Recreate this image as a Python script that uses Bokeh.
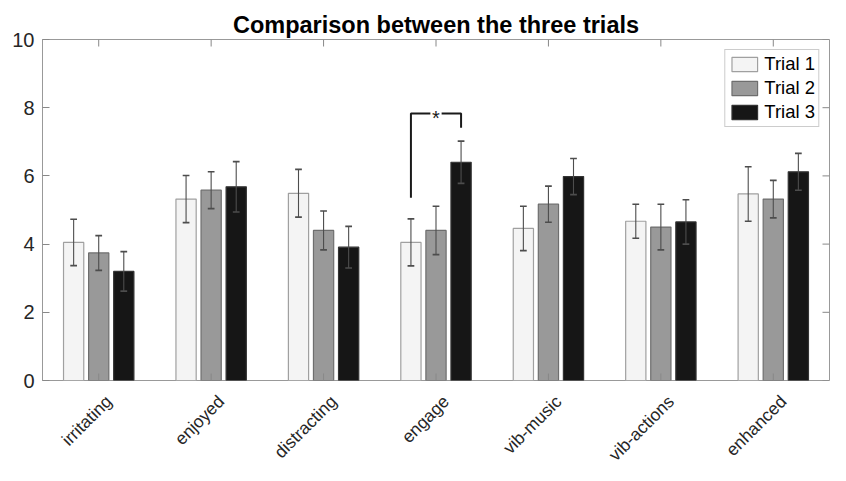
import math
from bokeh.plotting import figure
from bokeh.layouts import column
from bokeh.models import Range1d, FixedTicker, Legend, LegendItem
from bokeh.core.properties import value
from bokeh.embed import file_html
from bokeh.resources import INLINE

categories = ["irritating", "enjoyed", "distracting", "engage", "vib-music", "vib-actions", "enhanced"]
trial1_mean = [4.05, 5.32, 5.49, 4.05, 4.46, 4.67, 5.47]
trial1_err = [0.68, 0.69, 0.70, 0.69, 0.65, 0.50, 0.80]
trial2_mean = [3.74, 5.58, 4.40, 4.40, 5.17, 4.50, 5.32]
trial2_err = [0.51, 0.54, 0.57, 0.71, 0.53, 0.67, 0.55]
trial3_mean = [3.20, 5.68, 3.91, 6.40, 5.98, 4.65, 6.12]
trial3_err = [0.58, 0.74, 0.61, 0.62, 0.53, 0.65, 0.54]
series_names = ["Trial 1", "Trial 2", "Trial 3"]
y_ticks = [0, 2, 4, 6, 8, 10]

# significance bracket (engage: Trial 1 vs Trial 3)
sig_category = 3
sig_left_bottom = 5.36
sig_right_bottom = 7.41
sig_top = 7.83
sig_label = "*"

FONT = "Liberation Sans"
fills = ["#f4f4f4", "#999999", "#161616"]
lines = ["#a0a0a0", "#6e6e6e", "#333333"]
offsets = [-0.223, 0.0, 0.223]
bar_w = 0.18

W = 830
H1, H2 = 391, 74
ML, MR, MT, MB = 42, 1, 39, 11
X0, X1, Y0, Y1 = 0.5, 7.5, 0.0, 10.0
TICK = 7
fw = W - ML - MR
fh = H1 - MT - MB
px_x = fw / (X1 - X0)
px_y = fh / (Y1 - Y0)

x_range = Range1d(X0, X1)
p = figure(width=W, height=H1, output_backend="svg", toolbar_location=None,
           x_range=x_range, y_range=Range1d(Y0, Y1),
           min_border_left=ML, min_border_right=MR, min_border_top=MT, min_border_bottom=MB)
p.background_fill_color = "white"
p.border_fill_color = "white"
p.xgrid.visible = False
p.ygrid.visible = False
p.outline_line_color = "#999999"
p.xaxis.visible = False

p.title.text = "Comparison between the three trials"
p.title.align = "center"
p.title.text_font = FONT
p.title.text_font_size = "23.5px"
p.title.text_font_style = "bold"
p.title.text_color = "#000000"
p.title.standoff = 4

xs = list(range(1, len(categories) + 1))
means = [trial1_mean, trial2_mean, trial3_mean]
errs = [trial1_err, trial2_err, trial3_err]
renderers = []
for k in range(3):
    bx = [x + offsets[k] for x in xs]
    r = p.vbar(x=bx, top=means[k], bottom=0, width=bar_w, fill_color=fills[k],
               line_color=lines[k], line_width=1.2)
    renderers.append(r)

cap = 0.03
for k in range(3):
    bx = [x + offsets[k] for x in xs]
    lo = [m - e for m, e in zip(means[k], errs[k])]
    hi = [m + e for m, e in zip(means[k], errs[k])]
    p.segment(x0=bx, y0=lo, x1=bx, y1=hi, line_color="#4d4d4d", line_width=1.1)
    p.segment(x0=[x - cap for x in bx], y0=hi, x1=[x + cap for x in bx], y1=hi,
              line_color="#4d4d4d", line_width=1.6)
    p.segment(x0=[x - cap for x in bx], y0=lo, x1=[x + cap for x in bx], y1=lo,
              line_color="#4d4d4d", line_width=1.6)

# bracket
xl = xs[sig_category] + offsets[0]
xr = xs[sig_category] + offsets[2]
xm = xs[sig_category]
gap = 0.05
p.line(x=[xl, xl, xm - gap], y=[sig_left_bottom, sig_top, sig_top], line_color="#1a1a1a", line_width=2)
p.line(x=[xm + gap, xr, xr], y=[sig_top, sig_top, sig_right_bottom], line_color="#1a1a1a", line_width=2)
p.text(x=[xm], y=[sig_top], text=[sig_label], text_font=value(FONT), text_font_size="20px",
       text_align="center", text_baseline="middle", y_offset=5, text_color="#1a1a1a")

tick_col = "#888888"
ax = p.yaxis[0]
ax.ticker = FixedTicker(ticks=y_ticks)
ax.axis_line_color = "#999999"
ax.major_tick_line_color = tick_col
ax.major_tick_in = TICK
ax.major_tick_out = 0
ax.minor_tick_line_color = None
ax.major_label_text_font = FONT
ax.major_label_text_color = "#262626"
ax.major_label_text_font_size = "20px"
ax.major_label_standoff = 8

# inward ticks on bottom/top (categories) and right (values), as in a boxed axes
tk_y = TICK / px_y
tk_x = TICK / px_x
n = len(xs)
p.segment(x0=xs, y0=[Y0] * n, x1=xs, y1=[Y0 + tk_y] * n, line_color=tick_col, line_width=1)
p.segment(x0=xs, y0=[Y1] * n, x1=xs, y1=[Y1 - tk_y] * n, line_color=tick_col, line_width=1)
p.segment(x0=[X1] * len(y_ticks), y0=y_ticks, x1=[X1 - tk_x] * len(y_ticks), y1=y_ticks,
          line_color=tick_col, line_width=1)

legend = Legend(items=[LegendItem(label=series_names[k], renderers=[renderers[k]]) for k in range(3)],
                location="top_right")
legend.label_text_font = FONT
legend.label_text_font_size = "18.5px"
legend.label_text_color = "#000000"
legend.glyph_width = 32
legend.glyph_height = 18
legend.label_height = 18
legend.spacing = 2
legend.padding = 3
legend.margin = 10
legend.label_standoff = 4
legend.border_line_color = "#999999"
legend.border_line_width = 1
legend.background_fill_alpha = 1
p.add_layout(legend, "center")

# category labels strip (rotated 45 degrees, right end next to each tick)
q = figure(width=W, height=H2, output_backend="svg", toolbar_location=None,
           x_range=x_range, y_range=Range1d(0, H2),
           min_border_left=ML, min_border_right=MR, min_border_top=0, min_border_bottom=0)
q.axis.visible = False
q.grid.visible = False
q.outline_line_color = None
q.background_fill_color = "white"
q.border_fill_color = "white"
lab_dx = 10 / px_x
lab_y = H2 - 7
q.text(x=[x + lab_dx for x in xs], y=[lab_y] * n, text=categories, angle=math.pi / 4,
       text_align="right", text_baseline="middle", text_font=value(FONT),
       text_font_size="17.5px", text_color="#262626")

layout = column(p, q, spacing=0)
open("out.html", "w").write(file_html(layout, INLINE))
